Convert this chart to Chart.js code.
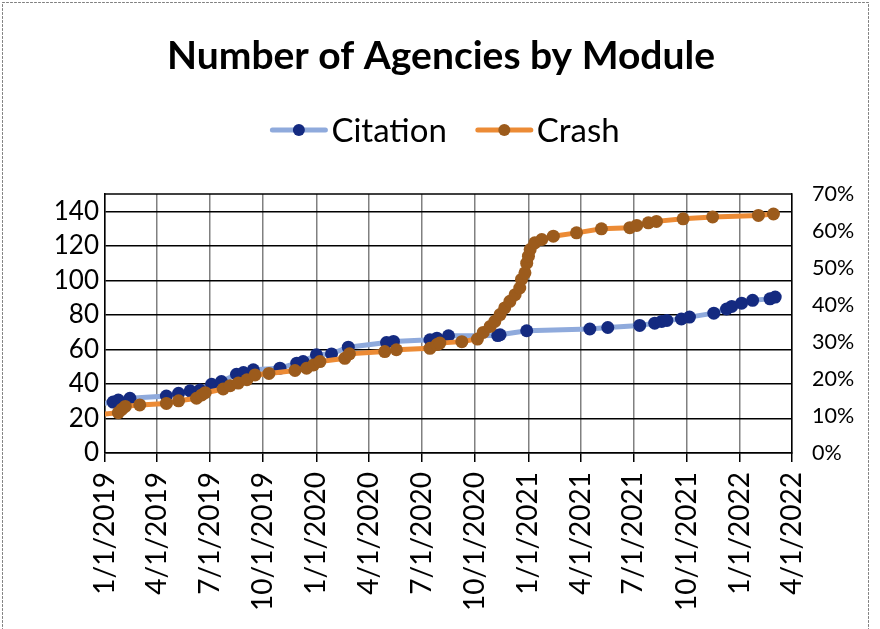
<!DOCTYPE html>
<html>
<head>
<meta charset="utf-8">
<script src="https://cdn.jsdelivr.net/npm/chart.js@4.4.0/dist/chart.umd.min.js"></script>
<style>
    html, body { margin: 0; padding: 0; background: #fff; }
    #wrap { width: 880px; height: 629px; }
</style>
</head>
<body>
<div id="wrap"><canvas id="agencyChart" width="880" height="629"></canvas></div>
<script>
const chartTitle = 'Number of Agencies by Module';

// Citation: number of agencies (left axis)
const citationDates = [
    '2018-12-02', '2019-01-15', '2019-01-24', '2019-02-13', '2019-04-17', '2019-05-08',
    '2019-05-28', '2019-06-14', '2019-07-04', '2019-07-21', '2019-08-16', '2019-08-28',
    '2019-09-14', '2019-10-30', '2019-11-28', '2019-12-09', '2020-01-01', '2020-01-27',
    '2020-02-25', '2020-05-01', '2020-05-13', '2020-07-15', '2020-07-27', '2020-08-16',
    '2020-11-09', '2020-11-13', '2020-12-29', '2021-04-17', '2021-05-18', '2021-07-12',
    '2021-08-07', '2021-08-19', '2021-08-28', '2021-09-22', '2021-10-06', '2021-11-17',
    '2021-12-09', '2021-12-18', '2022-01-04', '2022-01-23', '2022-02-22', '2022-03-03'
];
const citationValues = [
    27.5, 29.5, 30.7, 31.7, 33.0, 34.6,
    36.0, 36.5, 39.8, 41.4, 45.6, 46.6,
    48.2, 49.1, 52.0, 53.0, 56.9, 57.4,
    61.3, 64.0, 64.6, 65.6, 66.5, 67.9,
    68.0, 68.5, 70.8, 71.8, 72.7, 73.9,
    75.2, 76.2, 76.8, 77.6, 78.7, 81.0,
    83.4, 84.9, 86.8, 88.4, 89.3, 90.3
];

// Crash: share in percent (right axis)
const crashDates = [
    '2018-11-22', '2019-01-24', '2019-01-30', '2019-02-05', '2019-03-02', '2019-04-17',
    '2019-05-08', '2019-06-08', '2019-06-17', '2019-06-23', '2019-07-24', '2019-08-05',
    '2019-08-19', '2019-09-03', '2019-09-17', '2019-10-11', '2019-11-25', '2019-12-15',
    '2019-12-27', '2020-01-07', '2020-02-19', '2020-02-27', '2020-04-28', '2020-05-18',
    '2020-07-15', '2020-07-27', '2020-08-01', '2020-09-08', '2020-10-05', '2020-10-15',
    '2020-10-27', '2020-11-04', '2020-11-13', '2020-11-21', '2020-11-30', '2020-12-09',
    '2020-12-17', '2020-12-20', '2020-12-26', '2020-12-29', '2021-01-01', '2021-01-04',
    '2021-01-12', '2021-01-24', '2021-02-13', '2021-03-25', '2021-05-07', '2021-06-25',
    '2021-07-07', '2021-07-27', '2021-08-10', '2021-09-25', '2021-11-15', '2022-02-02',
    '2022-02-28'
];
const crashValues = [
    10.0, 10.9, 11.8, 12.6, 13.0, 13.4,
    14.1, 14.8, 15.7, 16.3, 17.3, 18.2,
    18.9, 19.8, 21.1, 21.5, 22.3, 22.9,
    23.8, 24.7, 25.6, 26.8, 27.4, 27.9,
    28.3, 29.3, 29.7, 30.1, 30.8, 32.6,
    34.2, 35.6, 37.4, 39.2, 41.0, 42.8,
    44.6, 46.9, 48.7, 51.3, 53.2, 55.0,
    56.8, 57.7, 58.6, 59.5, 60.6, 60.9,
    61.5, 62.2, 62.6, 63.3, 63.8, 64.2,
    64.6
];

const tickDates = [
    '2019-01-01', '2019-04-01', '2019-07-01', '2019-10-01',
    '2020-01-01', '2020-04-01', '2020-07-01', '2020-10-01',
    '2021-01-01', '2021-04-01', '2021-07-01', '2021-10-01',
    '2022-01-01', '2022-04-01'
];
const leftTicks = [0, 20, 40, 60, 80, 100, 120, 140];
const rightTicks = [0, 10, 20, 30, 40, 50, 60, 70];

const DAY = 86400000;
const ORIGIN = Date.UTC(2019, 0, 1);

function dayOf(s) {
    const [y, m, d] = s.split('-').map(Number);
    return (Date.UTC(y, m - 1, d) - ORIGIN) / DAY;
}

function dayLabel(v) {
    const dt = new Date(ORIGIN + Math.round(v) * DAY);
    return (dt.getUTCMonth() + 1) + '/' + dt.getUTCDate() + '/' + dt.getUTCFullYear();
}

function toPoints(dates, values) {
    return dates.map((d, i) => ({ x: dayOf(d), y: values[i] }));
}

// title, legend, top frame line and the dotted outer border
const decorations = {
    id: 'decorations',
    afterDraw(chart) {
        const ctx = chart.ctx;
        const area = chart.chartArea;
        ctx.save();

        ctx.strokeStyle = '#000';
        ctx.lineWidth = 1.5;
        ctx.beginPath();
        ctx.moveTo(area.left, area.top);
        ctx.lineTo(area.right, area.top);
        ctx.stroke();

        ctx.fillStyle = '#000';
        ctx.textAlign = 'center';
        ctx.textBaseline = 'alphabetic';
        ctx.font = 'bold 39px Lato';
        ctx.fillText(chartTitle, 441, 69);

        // legend: line + dot sample, then label
        const items = [chart.data.datasets[1], chart.data.datasets[0]];
        ctx.font = '33px Lato';
        const sampleW = 57, textGap = 4, itemGap = 29;
        let total = 0;
        items.forEach((ds, i) => {
            total += sampleW + textGap + ctx.measureText(ds.label).width + (i ? itemGap : 0);
        });
        let x = 445 - total / 2;
        const cy = 130;
        items.forEach(ds => {
            ctx.strokeStyle = ds.borderColor;
            ctx.lineWidth = 5;
            ctx.lineCap = 'round';
            ctx.beginPath();
            ctx.moveTo(x + 2, cy);
            ctx.lineTo(x + sampleW - 2, cy);
            ctx.stroke();
            ctx.fillStyle = ds.pointBackgroundColor;
            ctx.beginPath();
            ctx.arc(x + sampleW / 2, cy, 6, 0, Math.PI * 2);
            ctx.fill();
            ctx.fillStyle = '#000';
            ctx.textAlign = 'left';
            ctx.textBaseline = 'middle';
            ctx.fillText(ds.label, x + sampleW + textGap, cy + 1);
            x += sampleW + textGap + ctx.measureText(ds.label).width + itemGap;
        });

        ctx.setLineDash([2, 2]);
        ctx.strokeStyle = '#7f7f7f';
        ctx.lineWidth = 1;
        ctx.strokeRect(2.5, 2.5, 866, 640);
        ctx.restore();
    }
};

const ctx = document.getElementById('agencyChart').getContext('2d');
new Chart(ctx, {
    type: 'line',
    data: {
        datasets: [{
            label: 'Crash',
            data: toPoints(crashDates, crashValues),
            yAxisID: 'y1',
            borderColor: '#EC8B35',
            backgroundColor: '#9C5B1C',
            pointBackgroundColor: '#9C5B1C',
            pointBorderColor: '#9C5B1C',
            pointRadius: 6.5,
            pointBorderWidth: 0,
            borderWidth: 5,
            tension: 0,
            clip: { left: 0, top: 8, right: 8, bottom: 8 },
            order: 0
        }, {
            label: 'Citation',
            data: toPoints(citationDates, citationValues),
            yAxisID: 'y',
            borderColor: '#8FAADC',
            backgroundColor: '#142A80',
            pointBackgroundColor: '#142A80',
            pointBorderColor: '#142A80',
            pointRadius: 6.5,
            pointBorderWidth: 0,
            borderWidth: 5,
            tension: 0,
            clip: { left: 0, top: 8, right: 8, bottom: 8 },
            order: 1
        }]
    },
    options: {
        responsive: false,
        animation: false,
        devicePixelRatio: 1,
        layout: { padding: { top: 194, left: 0, right: 0, bottom: 0 } },
        plugins: {
            legend: { display: false },
            tooltip: { enabled: false }
        },
        scales: {
            x: {
                type: 'linear',
                min: dayOf(tickDates[0]),
                max: dayOf(tickDates[tickDates.length - 1]),
                afterBuildTicks: scale => {
                    scale.ticks = tickDates.map(d => ({ value: dayOf(d) }));
                },
                afterFit: scale => { scale.height = 176; },
                grid: {
                    color: '#808080',
                    lineWidth: 1.5,
                    tickLength: 9,
                    tickColor: '#000',
                    tickWidth: 1.5
                },
                border: { color: '#000', width: 1.5 },
                ticks: {
                    autoSkip: false,
                    minRotation: 90,
                    maxRotation: 90,
                    padding: 10,
                    color: '#000',
                    font: { family: 'Lato', size: 28 },
                    callback: v => dayLabel(v)
                }
            },
            y: {
                position: 'left',
                min: 0,
                max: 150,
                afterBuildTicks: scale => {
                    scale.ticks = leftTicks.map(v => ({ value: v }));
                },
                afterFit: scale => { scale.width = 105; },
                grid: { color: '#000', lineWidth: 1.5, drawTicks: false },
                border: { color: '#000', width: 1.5 },
                ticks: {
                    padding: 6,
                    color: '#000',
                    font: { family: 'Lato', size: 26 }
                }
            },
            y1: {
                position: 'right',
                min: 0,
                max: 70,
                afterBuildTicks: scale => {
                    scale.ticks = rightTicks.map(v => ({ value: v }));
                },
                afterFit: scale => { scale.width = 88; },
                grid: { drawOnChartArea: false, drawTicks: false },
                border: { color: '#000', width: 1.5 },
                ticks: {
                    padding: 20,
                    color: '#000',
                    font: { family: 'Lato', size: 21.5 },
                    callback: v => v + '%'
                }
            }
        }
    },
    plugins: [decorations]
});
</script>
</body>
</html>
